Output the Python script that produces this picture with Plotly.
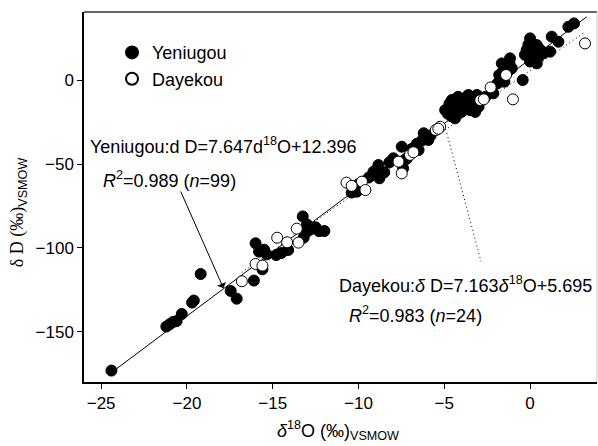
import plotly.graph_objects as go

# Yeniugou (filled) data: delta18O, deltaD
yen_x = [-24.4, -21.2, -21.0, -20.8, -20.6, -20.3, -19.7, -19.6, -19.2, -17.45, -17.1,
         -16.1, -16.0, -15.8, -15.6, -15.5, -15.35, -14.8, -14.5, -14.1, -13.25, -13.2,
         -13.0, -12.98, -12.8, -12.5, -12.3, -11.99,
         -10.4, -10.3, -10.1, -10.0, -9.4, -9.13, -8.9, -8.84, -8.78, -8.5, -8.2, -7.97,
         -7.48, -7.4, -7.2, -6.9, -6.6, -6.5, -6.3, -6.2, -5.93, -5.8,
         -4.95, -4.8, -4.7, -4.6, -4.56, -4.37, -4.3, -4.2, -4.08, -4.0, -3.8, -3.7, -3.6,
         -3.5, -3.3, -3.2, -3.1, -3.0, -2.9, -2.6, -2.14,
         -1.9, -1.8, -1.75, -1.65, -1.55, -1.5, -1.3, -1.2, -1.17, -1.07, -0.43,
         -0.3, -0.2, -0.1, 0.0, 0.0, 0.1, 0.2, 0.3, 0.39, 0.39, 0.5, 0.6, 0.78, 1.17,
         1.26, 1.65, 2.23, 2.56]
yen_y = [-173.0, -146.8, -145.4, -144.0, -143.5, -139.3, -132.5, -131.3, -115.5, -125.6, -130.2,
         -119.4, -97.2, -102.2, -112.7, -101.0, -103.8, -104.2, -103.0, -101.2, -81.2, -93.9,
         -86.0, -90.1, -88.9, -87.7, -90.0, -89.9,
         -67.0, -63.5, -66.5, -62.0, -58.0, -54.6, -53.0, -50.6, -58.5, -55.0, -49.0, -46.6,
         -39.7, -52.6, -47.0, -41.0, -38.0, -41.7, -36.0, -31.7, -35.7, -33.0,
         -17.9, -20.0, -14.0, -21.5, -11.9, -22.8, -16.0, -10.0, -11.9, -19.0, -13.0, -10.0, -8.9,
         -17.9, -14.0, -19.0, -8.9, -15.9, -12.0, -10.0, -7.9,
         -2.0, 3.0, 0.0, 9.9, 6.0, -1.0, 5.0, 10.0, 12.9, 7.0, 0.0,
         15.0, 17.9, 21.0, 24.8, 11.0, 13.9, 18.0, 12.0, 20.8, 9.9, 14.0, 18.0, 15.9, 16.9,
         25.8, 22.8, 31.7, 33.7]

# Dayekou (open) data
day_x = [-16.8, -16.0, -15.6, -14.74, -14.16, -13.6, -13.5, -10.7, -9.8, -9.6,
         -7.67, -7.48, -7.0, -6.8, -5.5, -5.24, -5.35, -2.9, -2.7, -2.3, -1.4, -1.0,
         -10.4, 3.2]
day_y = [-119.8, -109.5, -110.5, -93.9, -96.6, -88.5, -96.8, -61.1, -60.5, -65.5,
         -48.6, -55.6, -44.6, -43.0, -29.8, -27.8, -29.0, -12.0, -11.5, -4.4, 3.0, -11.5,
         -63.0, 21.8]

# Regression lines
yen_slope, yen_icpt = 7.647, 12.396
day_slope, day_icpt = 7.163, 5.695
yen_line_x = [-24.4, 3.3]
day_line_x = [-16.8, 3.2]

# dotted pointer for Dayekou equation
day_ptr_x = [-4.85, -2.86]
day_ptr_y = [-31.7, -108.0]

x_ticks = [-25, -20, -15, -10, -5, 0]
y_ticks = [-150, -100, -50, 0]

FONT = "Liberation Sans, Arial, sans-serif"
TXT = 18

fig = go.Figure()
fig.add_trace(go.Scatter(x=yen_line_x, y=[yen_slope * v + yen_icpt for v in yen_line_x],
                         mode="lines", line=dict(color="black", width=1), showlegend=False))
fig.add_trace(go.Scatter(x=day_line_x, y=[day_slope * v + day_icpt for v in day_line_x],
                         mode="lines", line=dict(color="black", width=1, dash="1px,3px"), showlegend=False))
fig.add_trace(go.Scatter(x=day_ptr_x, y=day_ptr_y, mode="lines",
                         line=dict(color="black", width=1, dash="1px,3px"), showlegend=False))
fig.add_trace(go.Scatter(x=yen_x, y=yen_y, mode="markers", name="Yeniugou",
                         marker=dict(color="black", size=11, line=dict(color="black", width=1))))
fig.add_trace(go.Scatter(x=day_x, y=day_y, mode="markers", name="Dayekou",
                         marker=dict(color="white", size=11, line=dict(color="black", width=1))))

ann = []
ann.append(dict(xref="paper", yref="paper", x=0.008, y=0.6405, xanchor="left", yanchor="middle",
                text="Yeniugou:d D=7.647d<sup>18</sup>O+12.396", showarrow=False,
                font=dict(size=TXT, color="black", family=FONT)))
ann.append(dict(xref="paper", yref="paper", x=0.033, y=0.5486, xanchor="left", yanchor="middle",
                text="<i>R</i><sup>2</sup>=0.989 (<i>n</i>=99)", showarrow=False,
                font=dict(size=TXT, color="black", family=FONT)))
ann.append(dict(xref="paper", yref="paper", x=0.4932, y=0.2622, xanchor="left", yanchor="middle",
                text="Dayekou:<i>δ</i> D=7.163<i>δ</i><sup>18</sup>O+5.695", showarrow=False,
                font=dict(size=TXT, color="black", family=FONT)))
ann.append(dict(xref="paper", yref="paper", x=0.5127, y=0.1811, xanchor="left", yanchor="middle",
                text="<i>R</i><sup>2</sup>=0.983 (<i>n</i>=24)", showarrow=False,
                font=dict(size=TXT, color="black", family=FONT)))
# arrow
ann.append(dict(xref="x", yref="y", axref="x", ayref="y", x=-17.87, y=-124.0, ax=-20.4, ay=-65.5,
                text="", showarrow=True, arrowhead=1, arrowsize=1.6, arrowwidth=1, arrowcolor="black"))
# axis titles
ann.append(dict(xref="paper", yref="paper", x=0.495, y=-0.13, xanchor="center", yanchor="middle",
                text="<i>δ</i><sup>18</sup>O (‰)<sub>VSMOW</sub>", showarrow=False,
                font=dict(size=TXT, color="black", family=FONT)))
ann.append(dict(xref="paper", yref="paper", x=-0.1287, y=0.459, xanchor="center", yanchor="middle",
                textangle=-90,
                text="δ D (‰)<sub><span style=\"font-family:Liberation Sans\">VSMOW</span></sub>",
                showarrow=False, font=dict(size=TXT, color="black", family="Liberation Serif, serif")))

fig.update_layout(
    width=598, height=446,
    margin=dict(l=84, r=1, t=12, b=64),
    paper_bgcolor="white", plot_bgcolor="white",
    font=dict(family=FONT, size=17, color="black"),
    annotations=ann,
    legend=dict(x=0.0546, y=0.94, xanchor="left", yanchor="top", bgcolor="rgba(0,0,0,0)",
                font=dict(size=TXT), tracegroupgap=0, itemsizing="constant"),
    shapes=[
        dict(type="line", xref="paper", yref="paper", x0=0, x1=1, y0=1, y1=1,
             line=dict(color="#666666", width=2)),
        dict(type="line", xref="paper", yref="paper", x0=1, x1=1, y0=0, y1=1,
             line=dict(color="#cccccc", width=1)),
    ],
)
fig.update_xaxes(range=[-26, 3.9], tickvals=x_ticks, ticktext=[str(v).replace("-", "−") for v in x_ticks],
                 showgrid=False, zeroline=False, showline=True, linecolor="black", linewidth=1.5,
                 ticks="outside", ticklen=5, tickcolor="black", tickfont=dict(size=17))
fig.update_yaxes(range=[-179.8, 40.5], tickvals=y_ticks, ticktext=[str(v).replace("-", "−") for v in y_ticks],
                 showgrid=False, zeroline=False, showline=True, linecolor="black", linewidth=1.5,
                 ticks="outside", ticklen=5, tickcolor="black", tickfont=dict(size=17))

fig.write_html("out.html")
